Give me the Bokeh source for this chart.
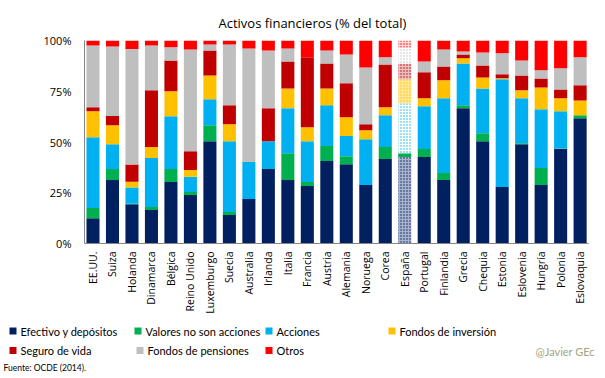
from bokeh.plotting import figure
from bokeh.models import ColumnDataSource, Range1d, FixedTicker
from bokeh.core.properties import value, field
from bokeh.embed import file_html
from bokeh.resources import INLINE
import math

countries = ["EE.UU.", "Suiza", "Holanda", "Dinamarca", "Bélgica", "Reino Unido", "Luxemburgo",
             "Suecia", "Australia", "Irlanda", "Italia", "Francia", "Austria", "Alemania",
             "Noruega", "Corea", "España", "Portugal", "Finlandia", "Grecia", "Chequia",
             "Estonia", "Eslovenia", "Hungría", "Polonia", "Eslovaquia"]

efectivo = [12.4, 31.3, 19.3, 16.5, 30.3, 23.9, 50.4, 14.1, 21.9, 36.7, 31.3, 28.3, 40.6, 39.1,
            28.8, 41.6, 42.6, 42.6, 31.3, 66.6, 50.4, 27.8, 48.9, 28.8, 46.5, 61.7]
valores = [5.1, 5.4, 0.3, 1.5, 6.4, 1.5, 7.9, 1.4, 0.0, 0.0, 13.2, 2.0, 7.4, 3.9,
           0.0, 5.9, 1.9, 3.9, 3.4, 1.5, 3.9, 0.0, 0.5, 8.4, 0.3, 1.5]
acciones = [34.9, 12.2, 8.0, 24.1, 26.0, 7.5, 12.7, 34.9, 18.2, 13.7, 22.1, 20.1, 20.1, 9.9,
            22.6, 15.7, 24.6, 21.1, 36.8, 20.6, 22.1, 53.1, 22.1, 28.9, 18.3, 0.0]
fondos_inv = [12.7, 9.4, 2.8, 5.4, 12.3, 3.3, 11.8, 8.4, 0.0, 0.0, 9.8, 6.9, 8.3, 9.3,
              4.4, 3.9, 11.8, 3.9, 8.9, 2.5, 5.4, 0.5, 4.0, 10.8, 6.4, 7.3]
seguro = [2.0, 4.5, 8.5, 28.0, 15.2, 9.3, 12.3, 9.3, 0.0, 16.2, 13.3, 34.4, 12.3, 16.7,
          3.0, 21.1, 7.8, 12.8, 6.8, 1.9, 5.9, 2.0, 7.3, 4.4, 4.4, 7.4]
pensiones = [30.4, 34.3, 56.9, 22.0, 6.5, 50.1, 2.9, 29.9, 56.0, 28.5, 6.4, 0.0, 6.4, 14.2,
             27.9, 3.5, 7.9, 5.4, 8.4, 1.5, 6.4, 10.3, 7.4, 4.0, 10.4, 13.8]
otros = [2.5, 2.9, 4.2, 2.5, 3.3, 4.4, 2.0, 2.0, 3.9, 4.9, 3.9, 8.3, 4.9, 6.9,
         13.3, 8.3, 3.4, 10.3, 4.4, 5.4, 5.9, 6.3, 9.8, 14.7, 13.7, 8.3]

series_names = ["Efectivo y depósitos", "Valores no son acciones", "Acciones",
                "Fondos de inversión", "Seguro de vida", "Fondos de pensiones", "Otros"]
colors = ["#002060", "#00B050", "#00B0F0", "#FFC000", "#C00000", "#BFBFBF", "#FF0000"]
# highlighted bar: light base colour with a dotted texture of the series colour
spain_base = ["#A9B4CC", "#00B050", "#FFFFFF", "#FFE89A", "#EBC0C0", "#FFFFFF", "#FFD6D6"]
spain_hatch = ["dot", " ", "dot", "dot", "dot", "dot", "dot"]
y_ticks = [0, 25, 50, 75, 100]
y_tick_labels = ["0%", "25%", "50%", "75%", "100%"]
highlight = "España"
title_text = "Activos financieros  (% del total)"
source_text = "Fuente: OCDE (2014)."
credit_text = "@Javier GEc"

keys = ["s0", "s1", "s2", "s3", "s4", "s5", "s6"]
all_vals = [efectivo, valores, acciones, fondos_inv, seguro, pensiones, otros]

data = {"x": [float(i) for i in range(len(countries))]}
for i, (k, v) in enumerate(zip(keys, all_vals)):
    data[k] = list(v)
    data["c" + k] = [spain_base[i] if c == highlight else colors[i] for c in countries]
    data["h" + k] = [spain_hatch[i] if c == highlight else " " for c in countries]
src = ColumnDataSource(data)

FONT = "Open Sans"
LFONT = "Lato"
W = 605
H_MAIN = 320
H_LEG = 58

p = figure(width=W, height=H_MAIN, output_backend="svg", toolbar_location=None,
           x_range=Range1d(-0.436, 25.43), y_range=Range1d(0, 100),
           min_border_left=84, min_border_right=17, min_border_top=40, min_border_bottom=77)
p.outline_line_color = None
p.xgrid.visible = False
p.ygrid.visible = False

p.title.text = title_text
p.title.align = "left"
p.title.offset = 134
p.title.text_font = FONT
p.title.text_font_size = "13px"
p.title.text_font_style = "normal"
p.title.text_color = "black"
p.title.standoff = 17

bw = 0.67
p.vbar_stack(keys, x="x", width=bw, source=src,
             fill_color=[field("c" + k) for k in keys],
             hatch_pattern=[field("h" + k) for k in keys],
             hatch_color=colors, hatch_scale=3, hatch_weight=1,
             line_color=None)

p.yaxis.ticker = FixedTicker(ticks=y_ticks)
p.yaxis.major_label_overrides = {t: l for t, l in zip(y_ticks, y_tick_labels)}
p.xaxis.ticker = FixedTicker(ticks=list(range(len(countries))))
p.xaxis.major_label_overrides = {i: c for i, c in enumerate(countries)}
p.xaxis.major_label_orientation = math.pi / 2
for ax in (p.xaxis, p.yaxis):
    ax.axis_line_color = "#868686"
    ax.major_tick_line_color = None
    ax.minor_tick_line_color = None
    ax.major_tick_out = 0
    ax.major_tick_in = 0
    ax.major_label_text_font = FONT
    ax.major_label_text_font_size = "10.5px"
    ax.major_label_text_color = "black"
p.yaxis.major_label_standoff = 13
p.yaxis.major_label_text_font_size = "11px"
p.xaxis.major_label_standoff = 8

# legend / footer panel (pixel coordinates, y downward)
leg_x = [9, 134, 265, 388, 9, 136, 265]
leg_y = [10.5, 10.5, 10.5, 10.5, 30.0, 30.0, 30.0]
q = figure(width=W, height=H_LEG, output_backend="svg", toolbar_location=None,
           x_range=Range1d(0, W), y_range=Range1d(H_LEG, 0),
           x_axis_location=None, y_axis_location=None, min_border=0,
           min_border_left=0, min_border_right=0, min_border_top=0, min_border_bottom=0)
q.outline_line_color = None
q.xgrid.visible = False
q.ygrid.visible = False
leg_src = ColumnDataSource(dict(x=[v + 3.5 for v in leg_x], tx=[v + 11 for v in leg_x],
                                y=leg_y, color=colors, label=series_names))
q.rect(x="x", y="y", width=7, height=7, width_units="screen", height_units="screen",
       fill_color="color", line_color=None, source=leg_src)
q.text(x="tx", y="y", text="label", source=leg_src, text_baseline="middle",
       text_align="left", text_font=value(LFONT), text_font_size="11px", text_color="black")
q.text(x=[535], y=[31], text=[credit_text], text_baseline="middle", text_align="left",
       text_font=value(LFONT), text_font_size="11px", text_color="#A3A37A")
q.text(x=[3], y=[47], text=[source_text], text_baseline="middle", text_align="left",
       text_font=value(LFONT), text_font_size="8.5px", text_color="black")

html = file_html([p, q], INLINE)
html = html.replace("<head>", "<head><style>html,body{margin:0;padding:0;overflow:hidden;line-height:0}</style>", 1)
open("out.html", "w").write(html)
